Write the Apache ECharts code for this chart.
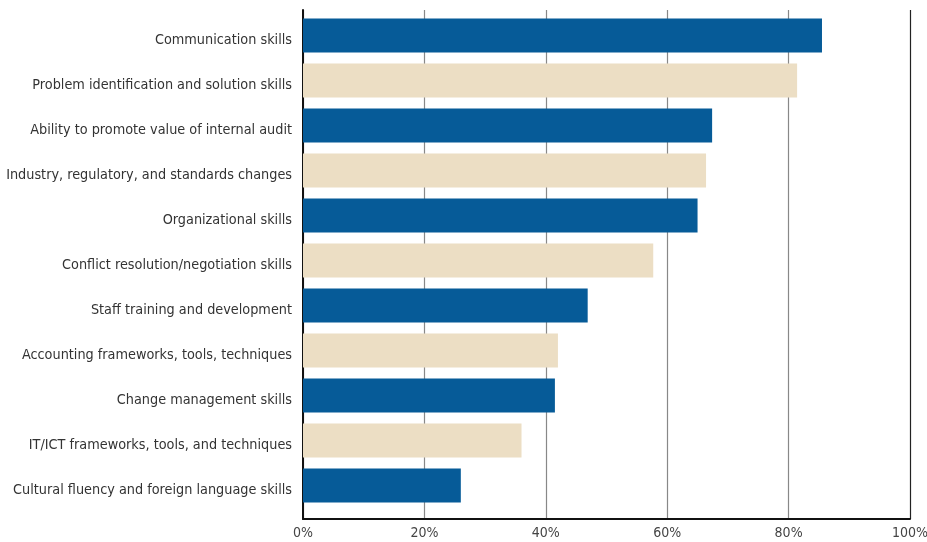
<!DOCTYPE html>
<html>
<head>
<meta charset="utf-8">
<script src="https://cdn.jsdelivr.net/npm/echarts@6/dist/echarts.min.js"></script>
<style>html,body{margin:0;padding:0;background:#fff}#c{width:927px;height:542px}</style>
</head>
<body>
<div id="c"></div>
<script>
const categories = [
  "Communication skills",
  "Problem identification and solution skills",
  "Ability to promote value of internal audit",
  "Industry, regulatory, and standards changes",
  "Organizational skills",
  "Conflict resolution/negotiation skills",
  "Staff training and development",
  "Accounting frameworks, tools, techniques",
  "Change management skills",
  "IT/ICT frameworks, tools, and techniques",
  "Cultural fluency and foreign language skills"
];
const values = [85.5, 81.4, 67.4, 66.4, 65.0, 57.7, 46.9, 42.0, 41.5, 36.0, 26.0];
const xTicks = [0, 20, 40, 60, 80, 100];

const BLUE = '#065b98';
const BEIGE = '#ecdec4';
const FONT = '"DejaVu Sans Condensed", "Liberation Sans Narrow", sans-serif';

const chart = echarts.init(document.getElementById('c'));
chart.setOption({
  backgroundColor: '#fff',
  animation: false,
  grid: [
    { left: 303, right: 17, top: 10, bottom: 23, outerBoundsMode: 'none', containLabel: false },
    { left: 303, right: 17, top: 13, bottom: 34, outerBoundsMode: 'none', containLabel: false }
  ],
  xAxis: [
    {
      gridIndex: 0, type: 'value', min: xTicks[0], max: xTicks[xTicks.length - 1], interval: 20,
      axisLine: { show: true, lineStyle: { color: '#111', width: 2 } },
      axisTick: { show: false },
      axisLabel: { formatter: '{value}%', color: '#444', fontFamily: FONT, fontSize: 14, margin: 7 },
      splitLine: { show: true, lineStyle: { color: ['#888', '#888', '#888', '#888', '#888', '#222'], width: 1.2 } }
    },
    {
      gridIndex: 1, type: 'value', min: 0, max: 100, show: false
    }
  ],
  yAxis: [
    {
      gridIndex: 0, type: 'value', min: 0, max: 1,
      axisLine: { show: true, lineStyle: { color: '#111', width: 2 } },
      axisTick: { show: false }, axisLabel: { show: false }, splitLine: { show: false }
    },
    {
      gridIndex: 1, type: 'category', data: categories, inverse: true,
      axisLine: { show: false }, axisTick: { show: false },
      axisLabel: { color: '#333', fontFamily: FONT, fontSize: 14.3, margin: 11, verticalAlign: 'top', lineHeight: 9 }
    }
  ],
  series: [{
    type: 'bar', xAxisIndex: 1, yAxisIndex: 1,
    data: values, barWidth: 34,
    itemStyle: { color: p => (p.dataIndex % 2 ? BEIGE : BLUE) }
  }]
});
</script>
</body>
</html>
